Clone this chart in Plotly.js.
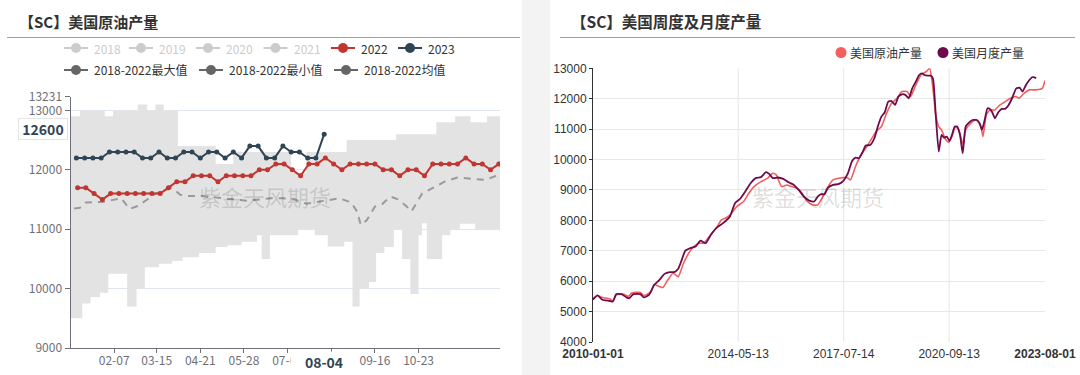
<!DOCTYPE html>
<html><head><meta charset="utf-8">
<script src="https://cdn.plot.ly/plotly-3.0.1.min.js"></script>
<style>html,body{margin:0;padding:0;background:#fff;}#chart{width:1080px;height:375px;}</style>
</head><body><div id="chart"></div>
<script>
// ---------------- Left panel data ----------------
const leftTitle = '【SC】美国原油产量';
const legendYears = ['2018', '2019', '2020', '2021', '2022', '2023'];
const legendStats = ['2018-2022最大值', '2018-2022最小值', '2018-2022均值'];

const weeks2022 = ['01-07','01-14','01-21','01-28','02-04','02-11','02-18','02-25','03-04','03-11','03-18','03-25','04-01','04-08','04-15','04-22','04-29','05-06','05-13','05-20','05-27','06-03','06-10','06-17','06-24','07-01','07-08','07-15','07-22','07-29','08-05','08-12','08-19','08-26','09-02','09-09','09-16','09-23','09-30','10-07','10-14','10-21','10-28','11-04','11-11','11-18','11-25','12-02','12-09','12-16','12-23','12-30'];
const prod2022 = [11700,11700,11600,11500,11600,11600,11600,11600,11600,11600,11600,11700,11800,11800,11900,11900,11900,11800,11900,11900,11900,11900,12000,12000,12100,12100,12000,11900,12100,12100,12200,12100,12000,12100,12100,12100,12100,12000,12000,11900,12000,12000,11900,12100,12100,12100,12100,12200,12100,12100,12000,12100];

const weeks2023 = ['01-06','01-13','01-20','01-27','02-03','02-10','02-17','02-24','03-03','03-10','03-17','03-24','03-31','04-07','04-14','04-21','04-28','05-05','05-12','05-19','05-26','06-02','06-09','06-16','06-23','06-30','07-07','07-14','07-21','07-28','08-04'];
const prod2023 = [12200,12200,12200,12200,12300,12300,12300,12300,12200,12200,12300,12200,12200,12300,12300,12200,12300,12300,12200,12300,12200,12400,12400,12200,12200,12400,12300,12300,12200,12200,12600];

const bandDays = ['01-01','01-09','01-11','01-18','01-26','01-30','02-02','02-06','02-18','02-26','02-27','03-05','03-07','03-14','03-17','03-21','03-28','04-02','04-06','04-20','05-04','05-14','05-19','05-26','06-08','06-12','06-19','07-07','07-13','07-20','07-27','08-07','08-21','08-23','08-28','09-03','09-11','09-17','09-24','10-02','10-04','10-09','10-16','10-23','10-26','10-30','11-07','11-12','11-19','11-23','11-27','12-06','12-10','12-20','12-31'];
const bandMax = [12900,13000,13000,13000,13000,12900,12900,13000,13000,13000,13100,13100,13000,13100,13100,13000,13000,12400,12400,12400,12100,12100,12300,12300,12300,12300,12300,11950,11950,12300,12300,12300,12300,12500,12500,12500,12500,12500,12500,12500,12600,12600,12600,12600,12600,12600,12800,12800,12800,12900,12900,12800,12800,12900,12900];
const bandMin = [9500,9500,9750,9860,9930,9930,10250,10250,9700,10000,10000,10360,10360,10360,10420,10420,10465,10465,10530,10600,10700,10730,10730,10790,10900,10500,10900,10900,11000,11000,10900,10710,10790,10790,9700,10000,10110,10600,10700,11000,11000,10500,9910,10900,11100,10500,10500,10900,11000,11000,11090,11090,11000,11000,11000];

const meanDays = ['01-04','01-09','01-14','01-21','01-28','02-05','02-13','02-20','02-27','03-07','03-14','03-28','04-04','04-11','04-21','05-01','05-11','05-21','05-31','06-10','06-20','06-30','07-10','07-20','07-30','08-09','08-17','08-27','09-01','09-04','09-09','09-16','09-22','09-29','10-06','10-12','10-17','10-26','11-04','11-14','11-25','12-07','12-18','12-28'];
const meanVals = [11350,11360,11450,11460,11460,11490,11520,11340,11390,11500,11600,11700,11580,11560,11560,11540,11520,11500,11480,11500,11520,11520,11500,11430,11460,11500,11520,11450,11290,11070,11150,11380,11420,11550,11500,11400,11300,11600,11690,11800,11870,11850,11830,11900];

const leftXTicks = ['02-07','03-15','04-21','05-28','07-04','08-10','09-16','10-23'];
const leftYTicks = [9000, 10000, 11000, 12000, 13000, 13231];
const pointerX = '08-04';
const pointerY = 12600;

// ---------------- Right panel data ----------------
const rightTitle = '【SC】美国周度及月度产量';
const seriesNames = ['美国原油产量', '美国月度产量'];
const weeklyDates = ['2010-01-01','2010-02-19','2010-04-15','2010-06-30','2010-08-07','2010-09-14','2010-11-29','2011-01-24','2011-03-02','2011-06-05','2011-07-12','2011-09-26','2011-11-04','2011-12-29','2012-02-07','2012-04-02','2012-05-29','2012-07-24','2012-09-20','2012-11-16','2013-01-12','2013-03-08','2013-05-03','2013-06-29','2013-09-14','2013-11-10','2014-01-06','2014-03-01','2014-04-27','2014-07-12','2014-09-07','2014-11-03','2015-01-18','2015-04-02','2015-05-28','2015-07-05','2015-09-01','2015-10-27','2015-12-23','2016-02-18','2016-04-14','2016-06-10','2016-08-06','2016-10-02','2016-11-28','2017-01-24','2017-03-19','2017-06-04','2017-08-19','2017-09-26','2017-11-21','2018-01-17','2018-03-13','2018-05-09','2018-07-05','2018-09-01','2018-10-27','2018-12-22','2019-02-18','2019-04-14','2019-06-10','2019-07-17','2019-09-13','2019-11-09','2020-01-05','2020-02-12','2020-03-19','2020-04-19','2020-05-22','2020-06-22','2020-07-29','2020-09-06','2020-10-14','2020-11-21','2020-12-28','2021-02-12','2021-03-13','2021-05-09','2021-07-04','2021-08-23','2021-09-19','2021-10-26','2021-12-04','2022-01-29','2022-03-25','2022-05-21','2022-07-17','2022-09-13','2022-10-20','2022-12-16','2023-02-11','2023-04-26','2023-07-03','2023-08-01'];
const weeklyVals = [5440,5530,5465,5420,5355,5550,5575,5500,5610,5630,5530,5640,5880,5825,5790,6045,6260,6150,6590,6920,7140,7250,7250,7470,7745,8015,8095,8235,8455,8620,8890,9110,9275,9390,9550,9495,9110,9165,9110,9055,8890,8620,8510,8510,8780,9110,9330,9390,9410,9330,9770,10150,10370,10645,10920,11085,11520,11850,12015,12235,12235,12070,12450,12780,12890,13000,12340,11470,11085,10975,10700,10570,10755,11085,10975,10500,10975,11195,11300,11140,10755,11470,11630,11630,11795,11905,12015,12070,12015,12180,12290,12290,12340,12600];

const monthlyDates = ['2010-01-01','2010-02-19','2010-04-15','2010-06-30','2010-08-07','2010-09-14','2010-11-10','2011-01-06','2011-02-05','2011-03-20','2011-06-05','2011-07-12','2011-09-08','2011-11-04','2011-12-29','2012-02-25','2012-04-21','2012-06-10','2012-07-24','2012-09-01','2012-10-09','2012-12-05','2013-01-30','2013-03-26','2013-05-22','2013-07-18','2013-09-14','2013-11-28','2014-02-12','2014-04-08','2014-06-04','2014-07-30','2014-09-26','2014-11-22','2015-01-18','2015-03-14','2015-04-21','2015-05-28','2015-07-24','2015-09-20','2015-11-16','2016-01-11','2016-03-07','2016-05-03','2016-06-29','2016-08-25','2016-10-02','2016-11-09','2016-12-16','2017-01-24','2017-03-19','2017-05-15','2017-07-11','2017-08-30','2017-10-14','2017-11-21','2017-12-29','2018-02-06','2018-03-13','2018-05-01','2018-06-16','2018-07-23','2018-09-01','2018-10-08','2018-11-15','2018-12-22','2019-01-29','2019-03-07','2019-04-14','2019-05-21','2019-06-28','2019-08-05','2019-09-13','2019-10-20','2019-11-20','2019-12-16','2020-01-23','2020-02-23','2020-03-19','2020-04-19','2020-05-22','2020-06-22','2020-07-18','2020-08-18','2020-09-18','2020-10-14','2020-11-14','2020-12-10','2021-01-10','2021-02-09','2021-03-13','2021-04-13','2021-05-27','2021-07-16','2021-08-12','2021-09-08','2021-10-08','2021-11-08','2021-12-04','2021-12-30','2022-01-29','2022-03-07','2022-04-14','2022-05-21','2022-06-28','2022-08-05','2022-09-20','2022-10-27','2022-11-27','2023-01-04','2023-02-11','2023-03-11','2023-04-07','2023-04-26'];
const monthlyVals = [5390,5530,5390,5355,5330,5575,5575,5460,5440,5575,5575,5465,5550,5880,6035,6240,6300,6300,6410,6700,7000,7085,7140,7330,7250,7525,7745,7910,8130,8565,8710,8950,9220,9390,9420,9585,9520,9390,9410,9365,9255,9170,9000,8780,8650,8620,8780,8860,8860,9080,9170,9190,9300,9550,9955,10065,10040,10240,10460,10480,10700,11085,11410,11555,11905,11925,11795,12070,12145,12125,12015,12340,12560,12780,12835,12780,12760,12760,12670,11470,10260,10810,10720,10755,10610,10810,11085,11085,10810,10205,11085,11195,11300,11300,11195,10975,11300,11685,11665,11555,11355,11555,11665,11665,11795,12015,12340,12365,12235,12450,12615,12705,12705,12670];

const rightXTicks = ['2010-01-01','2014-05-13','2017-07-14','2020-09-13','2023-08-01'];
const rightYTicks = [4000,5000,6000,7000,8000,9000,10000,11000,12000,13000];
const watermark = '紫金天风期货';

// ---------------- helpers ----------------
const W = 1080, H = 375;
const px = x => x / W;
const py = y => 1 - y / H;
const md = s => '2001-' + s;
const FONT = 'Noto Sans CJK SC, Noto Sans, sans-serif';
const ARIAL = 'Liberation Sans, Arial, sans-serif';
const RED = '#c23531', NAVY = '#2f4554';
const PINK = '#f25f5c', PLUM = '#6d0b4c';

const traces = [
  {x: bandDays.map(md), y: bandMin, xaxis: 'x', yaxis: 'y', mode: 'lines', line: {width: 0, shape: 'hv'}, hoverinfo: 'skip'},
  {x: bandDays.map(md), y: bandMax, xaxis: 'x', yaxis: 'y', mode: 'lines', line: {width: 0, shape: 'hv'}, fill: 'tonexty', fillcolor: '#e3e3e3', hoverinfo: 'skip'},
  {x: meanDays.map(md), y: meanVals, xaxis: 'x', yaxis: 'y', mode: 'lines', line: {color: '#9a9a9a', width: 2, dash: '7px,6px'}},
  {x: weeks2022.map(md), y: prod2022, xaxis: 'x', yaxis: 'y', mode: 'lines+markers', line: {color: RED, width: 2}, marker: {color: RED, size: 5}},
  {x: weeks2023.map(md), y: prod2023, xaxis: 'x', yaxis: 'y', mode: 'lines+markers', line: {color: NAVY, width: 2}, marker: {color: NAVY, size: 5}},
  {x: weeklyDates, y: weeklyVals, xaxis: 'x2', yaxis: 'y2', mode: 'lines', line: {color: PINK, width: 1.6, shape: 'spline', smoothing: 0.5}},
  {x: monthlyDates, y: monthlyVals, xaxis: 'x2', yaxis: 'y2', mode: 'lines', line: {color: PLUM, width: 1.8, shape: 'spline', smoothing: 0.5}}
];

const shapes = [];
const annotations = [];

// gray gutter between the panels
shapes.push({type: 'rect', xref: 'paper', yref: 'paper', x0: px(522), x1: px(550), y0: 0, y1: 1, fillcolor: '#f3f3f3', line: {width: 0}, layer: 'below'});
// title separators
shapes.push({type: 'line', xref: 'paper', yref: 'paper', x0: px(7), x1: px(520), y0: py(37.5), y1: py(37.5), line: {color: '#a0a0a0', width: 1}});
shapes.push({type: 'line', xref: 'paper', yref: 'paper', x0: px(560), x1: px(1075), y0: py(37.5), y1: py(37.5), line: {color: '#a0a0a0', width: 1}});

function txt(text, x, y, xa, size, color, extra) {
  return Object.assign({text: text, xref: 'paper', yref: 'paper', x: px(x), y: py(y), xanchor: xa, yanchor: 'middle', showarrow: false, font: {family: FONT, size: size, color: color}}, extra || {});
}

// titles
annotations.push(txt('<b>' + leftTitle + '</b>', 17, 21, 'left', 15, '#333'));
annotations.push(txt('<b>' + rightTitle + '</b>', 569, 21, 'left', 15.5, '#333'));

// left legend
function legendItem(cx, cy, color, label, textColor) {
  shapes.push({type: 'line', xref: 'paper', yref: 'paper', x0: px(cx - 12), x1: px(cx + 12), y0: py(cy), y1: py(cy), line: {color: color, width: 2}});
  shapes.push({type: 'circle', xref: 'paper', yref: 'paper', x0: px(cx - 5), x1: px(cx + 5), y0: py(cy + 5), y1: py(cy - 5), fillcolor: color, line: {width: 0}});
  annotations.push(txt(label, cx + 16, cy, 'left', 12, textColor));
}
const row1X = [76, 141, 208, 275.5, 343, 410];
const yearColors = ['#ccc', '#ccc', '#ccc', '#ccc', RED, NAVY];
const yearText = ['#ccc', '#ccc', '#ccc', '#ccc', '#333', '#333'];
legendYears.forEach((t, i) => legendItem(row1X[i], 48, yearColors[i], t, yearText[i]));
const row2X = [76, 211, 346];
legendStats.forEach((t, i) => legendItem(row2X[i], 70, '#666', t, '#333'));

// right legend (dots)
function dotItem(cx, cy, color, label) {
  shapes.push({type: 'circle', xref: 'paper', yref: 'paper', x0: px(cx - 5.5), x1: px(cx + 5.5), y0: py(cy + 5.5), y1: py(cy - 5.5), fillcolor: color, line: {width: 0}});
  annotations.push(txt(label, cx + 7, cy, 'left', 12, '#333'));
}
dotItem(841, 52.5, PINK, seriesNames[0]);
dotItem(943, 52.5, PLUM, seriesNames[1]);

// right vertical grid lines at inner ticks
rightXTicks.slice(1, -1).forEach(d => shapes.push({type: 'line', xref: 'x2', yref: 'y2 domain', x0: d, x1: d, y0: 0, y1: 1, line: {color: '#e6e6e6', width: 1}, layer: 'below'}));

// watermarks
annotations.push(txt(watermark, 265, 196, 'center', 22, 'rgba(0,0,0,0.14)'));
annotations.push(txt(watermark, 818, 196, 'center', 22, 'rgba(0,0,0,0.14)'));

// axis pointer labels
annotations.push(txt('<b>' + pointerY + '</b>', 43, 129, 'center', 14, NAVY, {width: 46, height: 18, bgcolor: '#fff', bordercolor: '#e4e4e4', borderwidth: 1}));
annotations.push({text: '<b>' + pointerX + '</b>', xref: 'x', yref: 'paper', x: md(pointerX), y: py(361.5), xanchor: 'center', yanchor: 'middle', showarrow: false, width: 64, height: 18, bgcolor: '#fff', font: {family: FONT, size: 14, color: NAVY}});

const layout = {
  width: W, height: H,
  margin: {l: 0, r: 0, t: 0, b: 0},
  paper_bgcolor: '#fff', plot_bgcolor: 'rgba(0,0,0,0)',
  showlegend: false,
  font: {family: FONT, size: 12, color: '#333'},
  xaxis: {domain: [px(70.5), px(500)], anchor: 'y', type: 'date', range: ['2001-01-01', '2001-12-31'],
    tickvals: leftXTicks.map(md), ticktext: leftXTicks, ticks: 'outside', ticklen: 4, tickcolor: '#6E7079',
    ticklabelstandoff: -2,
    showline: true, linecolor: '#6E7079', linewidth: 1, showgrid: false, zeroline: false,
    tickfont: {family: FONT, size: 12, color: '#6E7079'}},
  yaxis: {domain: [py(348), py(96.7)], anchor: 'x', range: [9000, 13231], tickvals: leftYTicks, ticktext: leftYTicks.map(String),
    ticks: 'outside', ticklen: 5, tickcolor: '#6E7079', showline: true, linecolor: '#6E7079', linewidth: 1,
    showgrid: true, gridcolor: '#E0E6F1', zeroline: false, tickfont: {family: FONT, size: 12, color: '#6E7079'}},
  xaxis2: {domain: [px(593), px(1045)], anchor: 'y2', type: 'date', range: ['2010-01-01', '2023-08-01'],
    tickvals: rightXTicks, ticktext: rightXTicks.map((t, i) => (i === 0 || i === rightXTicks.length - 1) ? '<b>' + t + '</b>' : t),
    ticks: '', ticklabelstandoff: 3, showline: false, showgrid: false, zeroline: false,
    tickfont: {family: ARIAL, size: 12, color: '#333'}},
  yaxis2: {domain: [py(342), py(68.3)], anchor: 'x2', range: [4000, 13000], tickvals: rightYTicks, ticktext: rightYTicks.map(String),
    ticks: 'outside', ticklen: 3, tickcolor: '#333', showline: true, linecolor: '#333', linewidth: 1,
    showgrid: true, gridcolor: '#e8e8e8', zeroline: false,
    tickfont: {family: ARIAL, size: 12, color: '#333'}},
  shapes: shapes,
  annotations: annotations
};

Plotly.newPlot('chart', traces, layout, {displayModeBar: false, staticPlot: true});
</script>
</body></html>
